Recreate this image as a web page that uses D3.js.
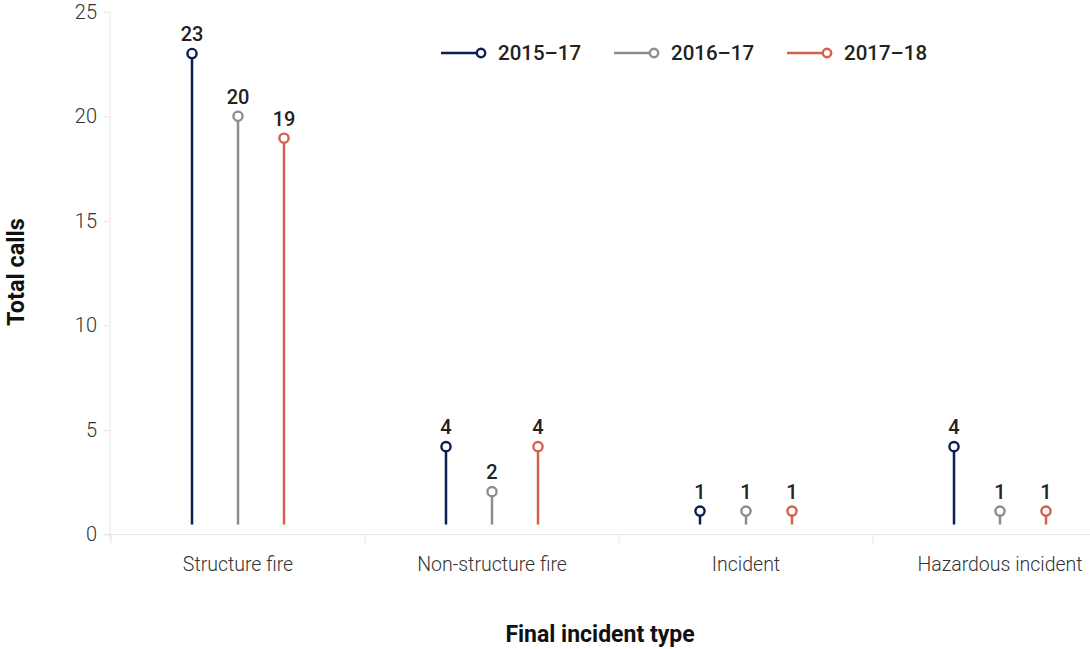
<!DOCTYPE html>
<html><head><meta charset="utf-8">
<script src="https://cdn.jsdelivr.net/npm/d3@7"></script>
<style>
html,body{margin:0;padding:0;background:#fff;overflow:hidden}
text{font-family:Roboto,"Noto Sans",sans-serif}
</style></head>
<body><svg id="c" width="1090" height="649"></svg>
<script>
const categories = ["Structure fire","Non-structure fire","Incident","Hazardous incident"];
const seriesNames = ["2015–17","2016–17","2017–18"];
const values2015_17 = [23, 4.2, 1.12, 4.2];
const values2016_17 = [20, 2.05, 1.12, 1.12];
const values2017_18 = [18.95, 4.2, 1.12, 1.12];
const yTicks = [0,5,10,15,20,25];
const colors = ["#0b1f51","#8b8d8f","#d6604d"];

const seriesValues = [values2015_17, values2016_17, values2017_18];
const svg = d3.select("#c");
const x = d3.scaleBand().domain(categories).range([111,1127]);
const xi = d3.scalePoint().domain(seriesNames).range([-46,46]);
const y = d3.scaleLinear().domain([0,25]).range([534.5,11.7]);

// y axis
const ya = svg.append("g").attr("transform","translate(110,0)")
  .call(d3.axisLeft(y).tickValues(yTicks).tickSize(6).tickPadding(7));
ya.select(".domain").attr("stroke","#e6e6e6").attr("d","M0,"+y(25)+"V"+(y(0)+6));
ya.selectAll(".tick line").attr("stroke","#e6e6e6");
ya.selectAll(".tick text").attr("fill","#333").style("font-size","20px").style("font-weight","300");

// x axis
const xa = svg.append("g").attr("transform","translate(0,"+y(0)+")")
  .call(d3.axisBottom(x).tickSize(0).tickPadding(23));
xa.select(".domain").attr("stroke","#e6e6e6").attr("d","M104,0H1127");
xa.selectAll(".tick text").attr("fill","#333").style("font-size","19.5px").style("font-weight","300");
xa.selectAll(".bnd").data(categories).enter().append("line")
  .attr("x1",d=>x(d)).attr("x2",d=>x(d)).attr("y1",0).attr("y2",9)
  .attr("stroke","#e6e6e6");

// lollipops
seriesNames.forEach((s,si)=>{
  const g = svg.append("g");
  const data = categories.map((c,ci)=>({c, v: seriesValues[si][ci]}));
  g.selectAll("line").data(data).enter().append("line")
    .attr("x1",d=>x(d.c)+x.bandwidth()/2+xi(s)).attr("x2",d=>x(d.c)+x.bandwidth()/2+xi(s))
    .attr("y1",y(0)-10).attr("y2",d=>y(d.v))
    .attr("stroke",colors[si]).attr("stroke-width",2.5);
  g.selectAll("circle").data(data).enter().append("circle")
    .attr("cx",d=>x(d.c)+x.bandwidth()/2+xi(s)).attr("cy",d=>y(d.v)).attr("r",4.6)
    .attr("fill","#fff").attr("stroke",colors[si]).attr("stroke-width",2.4);
  g.selectAll("text").data(data).enter().append("text")
    .attr("x",d=>x(d.c)+x.bandwidth()/2+xi(s)).attr("y",d=>y(d.v)-12.5)
    .attr("text-anchor","middle").attr("fill","#222")
    .style("font-size","20px").style("font-weight","500")
    .text(d=>d3.format(".0f")(d.v));
});

// legend
const legX = [441, 614, 787];
seriesNames.forEach((s,si)=>{
  const g = svg.append("g").attr("transform","translate("+legX[si]+",53)");
  g.append("line").attr("x1",0).attr("x2",36).attr("y1",0).attr("y2",0)
    .attr("stroke",colors[si]).attr("stroke-width",2.5);
  g.append("circle").attr("cx",40).attr("cy",0).attr("r",4.2)
    .attr("fill","#fff").attr("stroke",colors[si]).attr("stroke-width",2.4);
  g.append("text").attr("x",57).attr("y",7).attr("fill","#222")
    .style("font-size","20.5px").style("font-weight","500").text(s);
});

// titles
svg.append("text").attr("transform","translate(24,272) rotate(-90)")
  .attr("text-anchor","middle").attr("fill","#111")
  .style("font-size","23.5px").style("font-weight","700").text("Total calls");
svg.append("text").attr("x",600).attr("y",642)
  .attr("text-anchor","middle").attr("fill","#111")
  .style("font-size","23px").style("font-weight","700").text("Final incident type");
</script></body></html>
